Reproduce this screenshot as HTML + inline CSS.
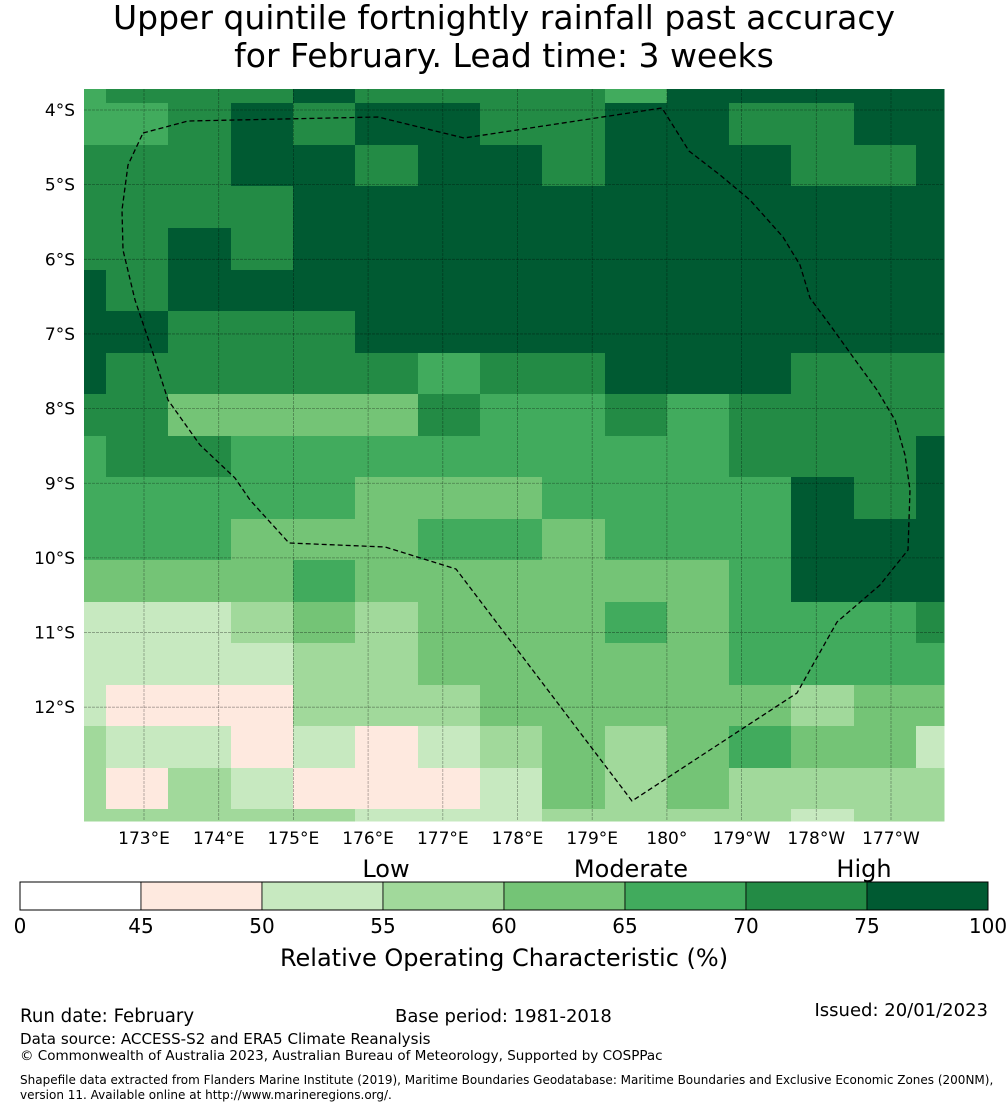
<!DOCTYPE html>
<html><head><meta charset="utf-8"><style>
body{margin:0;background:#fff;width:1008px;height:1110px;overflow:hidden;font-family:"DejaVu Sans","Liberation Sans",sans-serif;}
svg text{font-family:"DejaVu Sans","Liberation Sans",sans-serif;}
</style></head><body>
<svg id="chart" width="1008" height="1110" xmlns="http://www.w3.org/2000/svg">
<text x="504" y="29" font-size="33" text-anchor="middle">Upper quintile fortnightly rainfall past accuracy</text>
<text x="504" y="67" font-size="33" text-anchor="middle">for February. Lead time: 3 weeks</text>
<g id="cells"></g>
<g id="grid"></g>
<polyline fill="none" stroke="#000" stroke-width="1.3" stroke-dasharray="5,3" points="143,133 188,121 378,117 464,138 662,108 689,151 720,175 750,200 783,237 800,265 810,298 830,325 853,357 877,390 895,420 905,455 910,490 908,550 880,585 837,622 797,693 632,801 456,569 385,547 289,543 250,500 235,478 200,445 168,400 152,350 135,300 123,250 122,210 128,165 143,133"/>
<g id="axes"></g>
<g id="cbar"></g>
<text x="386" y="877" font-size="24" text-anchor="middle">Low</text>
<text x="631" y="877" font-size="24" text-anchor="middle">Moderate</text>
<text x="864" y="877" font-size="24" text-anchor="middle">High</text>
<text x="504" y="966" font-size="24" text-anchor="middle">Relative Operating Characteristic (%)</text>
<text x="20" y="1022" font-size="18.2">Run date: February</text>
<text x="395" y="1022" font-size="18">Base period: 1981-2018</text>
<text x="988" y="1016" font-size="18" text-anchor="end">Issued: 20/01/2023</text>
<text x="20" y="1044" font-size="15.1">Data source: ACCESS-S2 and ERA5 Climate Reanalysis</text>
<text x="20" y="1060" font-size="13.5">© Commonwealth of Australia 2023, Australian Bureau of Meteorology, Supported by COSPPac</text>
<text x="20" y="1084" font-size="12">Shapefile data extracted from Flanders Marine Institute (2019), Maritime Boundaries Geodatabase: Maritime Boundaries and Exclusive Economic Zones (200NM),</text>
<text x="20" y="1099" font-size="12">version 11. Available online at http://www.marineregions.org/.</text>
</svg>
<script>
const colEdges=[84,106,168,231,293,355,418,480,542,605,667,729,791,854,916,944];
const rowEdges=[89,103,145,186,228,270,311,353,394,436,477,519,560,602,643,685,726,768,809,821];
const rocValues=[
[67,72,72,72,80,72,72,72,72,67,80,80,80,80,80],
[67,67,72,80,72,80,80,72,72,80,80,72,72,80,80],
[72,72,72,80,80,72,80,80,72,80,80,80,72,72,80],
[72,72,72,72,80,80,80,80,80,80,80,80,80,80,80],
[72,72,80,72,80,80,80,80,80,80,80,80,80,80,80],
[80,72,80,80,80,80,80,80,80,80,80,80,80,80,80],
[80,80,72,72,72,80,80,80,80,80,80,80,80,80,80],
[80,72,72,72,72,72,67,72,72,80,80,80,72,72,72],
[72,72,62,62,62,62,72,67,67,72,67,72,72,72,72],
[67,72,72,67,67,67,67,67,67,67,67,72,72,72,80],
[67,67,67,67,67,62,62,62,67,67,67,67,80,72,80],
[67,67,67,62,62,62,67,67,62,67,67,67,80,80,80],
[62,62,62,62,67,62,62,62,62,62,62,67,80,80,80],
[52,52,52,57,62,57,62,62,62,67,62,67,67,67,72],
[52,52,52,52,57,57,62,62,62,62,62,67,67,67,67],
[52,47,47,47,57,57,57,62,62,62,62,62,57,62,62],
[57,52,52,47,52,47,52,57,62,57,62,67,62,62,52],
[57,47,57,52,47,47,47,52,62,57,62,57,57,57,57],
[57,57,57,57,57,52,52,52,57,57,57,57,52,57,57]];
const bounds=[0,45,50,55,60,65,70,75,100];
const colors=["#ffffff","#fee9df","#c7e9c0","#a1d99b","#74c476","#41ab5d","#238b45","#005a32"];
const lonLabels=["173°E","174°E","175°E","176°E","177°E","178°E","179°E","180°","179°W","178°W","177°W"];
const latLabels=["4°S","5°S","6°S","7°S","8°S","9°S","10°S","11°S","12°S"];
const NS="http://www.w3.org/2000/svg";
function mk(t,a,p){const e=document.createElementNS(NS,t);for(const k in a)e.setAttribute(k,a[k]);p.appendChild(e);return e;}
function colorOf(v){for(let i=bounds.length-2;i>=0;i--)if(v>=bounds[i])return colors[i];return colors[0];}
const cells=document.getElementById('cells');
rocValues.forEach((row,r)=>row.forEach((v,c)=>{
 const el=mk('rect',{x:colEdges[c],y:rowEdges[r],width:colEdges[c+1]-colEdges[c]+0.5,height:rowEdges[r+1]-rowEdges[r]+0.5,fill:colorOf(v)},cells);
 
 
}));
const lonX=i=>144+i*74.7, latY=i=>110+i*74.65;
const grid=document.getElementById('grid'),axes=document.getElementById('axes');
lonLabels.forEach((t,i)=>{
 const l=mk('line',{x1:lonX(i),x2:lonX(i),y1:89,y2:821,stroke:"#000","stroke-opacity":0.35,"stroke-width":0.8,"stroke-dasharray":"3,1"},grid);
 
 
 const tx=mk('text',{x:lonX(i),y:844,"font-size":17,"text-anchor":"middle"},axes);tx.textContent=t;
 
 
});
latLabels.forEach((t,i)=>{
 const l=mk('line',{x1:84,x2:944,y1:latY(i),y2:latY(i),stroke:"#000","stroke-opacity":0.35,"stroke-width":0.8,"stroke-dasharray":"3,1"},grid);
 
 
 const tx=mk('text',{x:75,y:latY(i)+6,"font-size":17,"text-anchor":"end"},axes);tx.textContent=t;
 
 
});
const cb=document.getElementById('cbar');
const cbX=i=>i===0?20:141+(i-1)*121;
for(let i=0;i<colors.length;i++){
 const r=mk('rect',{x:cbX(i),y:882,width:cbX(i+1)-cbX(i),height:28,fill:colors[i],stroke:"#000","stroke-width":0.8},cb);
 
 
}
for(let i=0;i<bounds.length;i++){
 const t=mk('text',{x:cbX(i),y:933,"font-size":20,"text-anchor":"middle"},cb);t.textContent=bounds[i];
 
 
}
mk('rect',{x:20,y:882,width:968,height:28,fill:"none",stroke:"#000","stroke-width":1},cb);
</script>
</body></html>
